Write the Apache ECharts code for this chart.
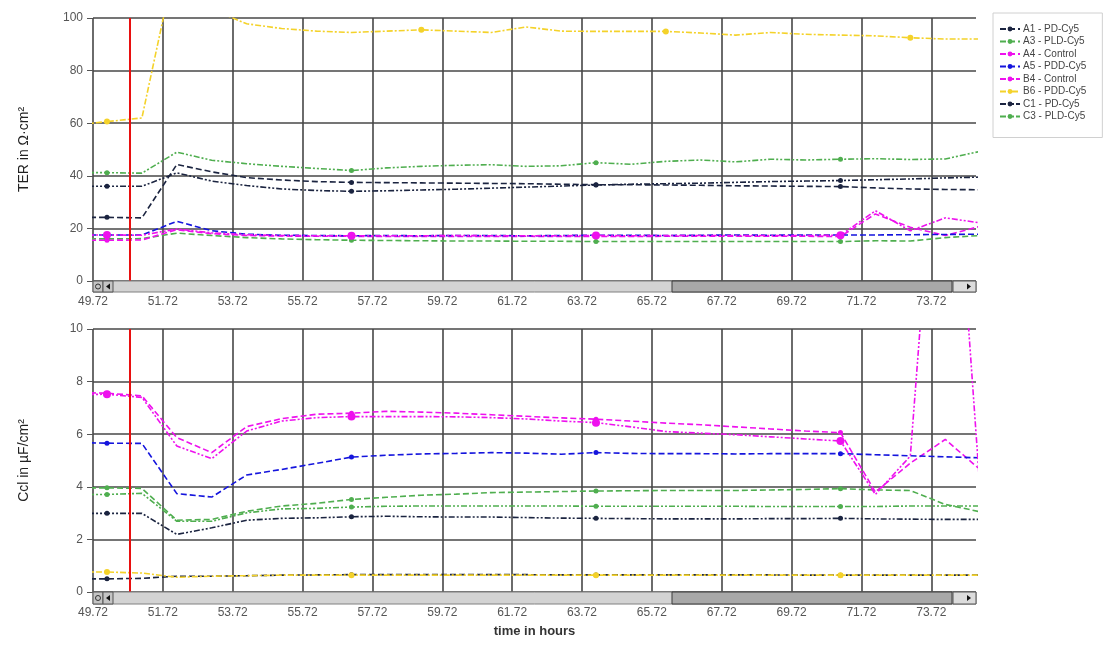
<!DOCTYPE html>
<html>
<head>
<meta charset="utf-8">
<script src="https://cdn.jsdelivr.net/npm/echarts@6/dist/echarts.min.js"></script>
<style>
html,body{margin:0;padding:0;background:#fff;}
#chart{width:1117px;height:647px;}
</style>
</head>
<body>
<div id="chart"></div>
<script>
// ---------- DATA ----------
const hours = [49.12,50.12,51.12,52.12,53.12,54.12,55.12,56.12,57.12,58.12,59.12,60.12,61.12,62.12,63.12,64.12,65.12,66.12,67.12,68.12,69.12,70.12,71.12,72.12,73.12,74.12,75.12];
const axisStart = 49.72;
const axisEnd = 75.0;
const treatmentTime = 50.78;
const seriesNames = ['A1 - PD-Cy5','A3 - PLD-Cy5','A4 - Control','A5 - PDD-Cy5','B4 - Control','B6 - PDD-Cy5','C1 - PD-Cy5','C3 - PLD-Cy5'];

// TER in Ohm*cm2 (top panel)
const terA1 = [24.2,24.2,24.0,44.3,41.5,39.3,38.4,37.8,37.5,37.4,37.3,37.2,37.1,37.0,36.8,36.6,36.6,36.5,36.4,36.2,36.1,36.0,35.9,35.4,35.0,34.8,34.7];
const terA3 = [16.0,16.0,16.1,18.2,17.3,16.5,16.0,15.7,15.5,15.4,15.3,15.2,15.2,15.1,15.1,15.0,15.0,15.0,15.0,15.0,15.0,15.0,15.0,15.3,15.2,16.5,17.3];
const terA4 = [15.5,15.5,15.6,19.5,18.0,17.3,17.1,17.0,17.0,16.9,16.9,16.9,16.9,17.0,16.9,16.9,16.9,17.0,17.0,17.0,17.0,17.0,16.9,25.5,20.4,17.3,20.8];
const terA5 = [17.5,17.5,17.5,22.7,19.1,17.8,17.4,17.3,17.2,17.3,17.2,17.3,17.3,17.2,17.3,17.4,17.4,17.3,17.4,17.5,17.4,17.5,17.5,17.5,17.6,17.7,17.8];
const terB4 = [17.4,17.5,17.4,19.8,18.3,17.6,17.3,17.2,17.2,17.2,17.2,17.3,17.2,17.2,17.2,17.3,17.2,17.3,17.3,17.3,17.3,17.3,17.4,26.7,19.1,24.0,22.1];
const terB6 = [59.2,60.6,62.0,124.0,103.3,97.8,96.0,95.0,94.5,95.0,95.5,95.0,94.5,96.6,95.0,94.9,94.9,94.9,94.3,93.5,94.5,93.8,93.5,93.2,92.5,92.0,92.0];
const terC1 = [36.0,36.0,36.0,41.1,38.0,36.3,35.0,34.4,34.1,34.3,34.6,34.9,35.3,35.7,36.1,36.5,36.8,37.0,37.2,37.5,37.8,38.0,38.2,38.5,38.8,39.2,39.5];
const terC3 = [41.2,41.2,41.0,49.0,45.9,44.6,43.6,42.8,42.0,43.0,43.6,44.0,44.2,43.6,43.8,45.0,44.4,45.5,46.0,45.3,46.3,46.0,46.3,46.5,46.2,46.4,49.3];

// Ccl in uF/cm2 (bottom panel)
const cclA1 = [0.50,0.50,0.52,0.60,0.60,0.62,0.64,0.65,0.66,0.66,0.66,0.66,0.66,0.66,0.65,0.65,0.65,0.65,0.65,0.65,0.65,0.64,0.64,0.64,0.64,0.64,0.64];
const cclA3 = [3.96,3.96,3.94,2.73,2.76,3.07,3.27,3.37,3.52,3.60,3.68,3.72,3.78,3.80,3.82,3.84,3.85,3.86,3.86,3.86,3.88,3.90,3.93,3.88,3.86,3.33,3.05];
const cclA4 = [7.59,7.56,7.46,5.87,5.30,6.29,6.59,6.76,6.80,6.87,6.84,6.80,6.74,6.68,6.62,6.57,6.50,6.42,6.36,6.28,6.20,6.12,6.06,3.80,4.90,5.80,4.65];
const cclA5 = [5.68,5.66,5.65,3.74,3.61,4.45,4.66,4.89,5.13,5.20,5.25,5.27,5.30,5.28,5.24,5.30,5.27,5.26,5.26,5.25,5.26,5.26,5.26,5.22,5.18,5.14,5.10];
const cclB4 = [7.50,7.52,7.40,5.55,5.07,6.12,6.50,6.63,6.67,6.67,6.67,6.66,6.63,6.58,6.50,6.44,6.28,6.10,6.04,5.98,5.90,5.82,5.74,3.71,5.17,22.6,3.80];
const cclB6 = [0.76,0.76,0.72,0.56,0.60,0.62,0.64,0.64,0.64,0.64,0.64,0.64,0.64,0.64,0.64,0.64,0.64,0.64,0.64,0.64,0.64,0.64,0.64,0.64,0.64,0.64,0.64];
const cclC1 = [2.99,2.99,2.99,2.19,2.44,2.73,2.80,2.82,2.86,2.88,2.86,2.85,2.85,2.83,2.81,2.80,2.79,2.78,2.78,2.78,2.79,2.79,2.80,2.78,2.77,2.76,2.76];
const cclC3 = [3.71,3.71,3.75,2.69,2.69,3.01,3.16,3.18,3.23,3.26,3.27,3.27,3.27,3.27,3.27,3.26,3.26,3.26,3.26,3.26,3.25,3.25,3.25,3.25,3.27,3.27,3.27];

const xTickLabels = ['49.72','51.72','53.72','55.72','57.72','59.72','61.72','63.72','65.72','67.72','69.72','71.72','73.72'];

// ---------- STYLE ----------
const FONT = 'Liberation Sans, Arial, sans-serif';
const styles = {
  'A1 - PD-Cy5':  {color:'#1b2440', type:[6,3], size:5},
  'A3 - PLD-Cy5': {color:'#4fae4f', type:[6,3], size:5},
  'A4 - Control': {color:'#ee11ee', type:[6,3], size:5},
  'A5 - PDD-Cy5': {color:'#1515dd', type:[6,3], size:5},
  'B4 - Control': {color:'#ee11ee', type:[6,2,2,2,2,2], size:8},
  'B6 - PDD-Cy5': {color:'#f4d22a', type:[6,2,2,2], size:6},
  'C1 - PD-Cy5':  {color:'#1b2440', type:[6,2,2,2,2,2], size:5},
  'C3 - PLD-Cy5': {color:'#4fae4f', type:[6,2,2,2,2,2], size:5}
};
const markerIdxDefault = [1,8,15,22];
const markerIdxTopB6 = [1,10,17,24];

const terData = [terA1,terA3,terA4,terA5,terB4,terB6,terC1,terC3];
const cclData = [cclA1,cclA3,cclA4,cclA5,cclB4,cclB6,cclC1,cclC3];

function build(values, markers) {
  return values.map((v, i) => {
    const item = {value: [hours[i] - axisStart, v]};
    if (markers.indexOf(i) < 0) item.symbol = 'none';
    return item;
  });
}

const series = [];
[terData, cclData].forEach((set, g) => {
  set.forEach((vals, si) => {
    const name = seriesNames[si];
    const st = styles[name];
    const markers = (g === 0 && name === 'B6 - PDD-Cy5') ? markerIdxTopB6 : markerIdxDefault;
    const s = {
      name: name,
      type: 'line',
      xAxisIndex: g, yAxisIndex: g,
      data: build(vals, markers),
      symbol: 'circle',
      symbolSize: st.size,
      showAllSymbol: true,
      color: st.color,
      itemStyle: {color: st.color},
      lineStyle: {color: st.color, width: 1.6, type: st.type},
      clip: true,
      z: 3,
      animation: false
    };
    if (si === 0) {
      s.markLine = {
        silent: true, symbol: 'none', animation: false,
        label: {show: false},
        lineStyle: {color: '#e81010', width: 2, type: 'solid'},
        data: [{xAxis: treatmentTime - axisStart}]
      };
    }
    series.push(s);
  });
});

function xAxisDef(idx, withName) {
  const a = {
    gridIndex: idx, type: 'value',
    min: 0, max: +(axisEnd - axisStart).toFixed(2), interval: 2,
    offset: 11,
    axisLine: {show: false},
    axisTick: {show: true, length: 5, lineStyle: {color: '#555', width: 1}},
    axisLabel: {
      margin: 4, color: '#555', fontSize: 12, fontFamily: FONT,
      showMaxLabel: false,
      formatter: v => { const i = Math.round(v / 2); return (Math.abs(v - i*2) < 1e-6 && xTickLabels[i]) ? xTickLabels[i] : ''; }
    },
    splitLine: {show: true, showMaxLine: false, lineStyle: {color: '#474747', width: 1.6}}
  };
  if (withName) {
    a.name = 'time in hours';
    a.nameLocation = 'middle';
    a.nameGap = 22;
    a.nameTextStyle = {fontSize: 13, fontWeight: 'bold', color: '#333', fontFamily: FONT};
  }
  return a;
}
function yAxisDef(idx, max, interval, name) {
  return {
    gridIndex: idx, type: 'value', min: 0, max: max, interval: interval,
    axisLine: {show: false},
    axisTick: {show: true, length: 6, lineStyle: {color: '#555'}},
    axisLabel: {color: '#555', fontSize: 12, margin: 10, fontFamily: FONT},
    splitLine: {show: true, lineStyle: {color: '#474747', width: 1.6}},
    name: name, nameLocation: 'middle', nameGap: 62,
    nameTextStyle: {fontSize: 14, color: '#222', fontFamily: FONT}
  };
}

// scrollbar decorations
function scrollbar(y, h) {
  return [
    {type:'rect', shape:{x:93, y:y, width:883, height:h}, style:{fill:'#d3d3d3', stroke:'#808080', lineWidth:1}, z:10},
    {type:'rect', shape:{x:672, y:y, width:280, height:h}, style:{fill:'#a8a8a8', stroke:'#3a3a3a', lineWidth:1}, z:11},
    {type:'rect', shape:{x:93, y:y, width:10, height:h}, style:{fill:'#c4c4c4', stroke:'#555', lineWidth:1}, z:12},
    {type:'circle', shape:{cx:98, cy:y+h/2, r:2.5}, style:{fill:'none', stroke:'#333', lineWidth:1}, z:13},
    {type:'rect', shape:{x:103, y:y, width:10, height:h}, style:{fill:'#c4c4c4', stroke:'#555', lineWidth:1}, z:12},
    {type:'polygon', shape:{points:[[106, y+h/2],[110, y+h/2-3],[110, y+h/2+3]]}, style:{fill:'#111'}, z:13},
    {type:'rect', shape:{x:953, y:y, width:23, height:h}, style:{fill:'#dcdcdc', stroke:'#555', lineWidth:1}, z:12},
    {type:'polygon', shape:{points:[[971, y+h/2],[967, y+h/2-3],[967, y+h/2+3]]}, style:{fill:'#111'}, z:13}
  ];
}

const option = {
  animation: false,
  backgroundColor: '#fff',
  textStyle: {fontFamily: FONT},
  grid: [
    {left: 93, right: 141, top: 18, height: 263},
    {left: 93, right: 141, top: 329, height: 263}
  ],
  legend: {
    orient: 'vertical',
    left: 993, top: 13,
    data: seriesNames,
    itemWidth: 20, itemHeight: 6, itemGap: 2.5,
    padding: [11, 16, 16, 6],
    backgroundColor: '#fff',
    borderColor: '#d0d0d0', borderWidth: 1,
    textStyle: {fontSize: 10, color: '#444', fontFamily: FONT, padding: [0,0,0,-2]},
    selectedMode: false
  },
  xAxis: [xAxisDef(0, false), xAxisDef(1, true)],
  yAxis: [
    yAxisDef(0, 100, 20, 'TER in \u03A9\u00B7cm\u00B2'),
    yAxisDef(1, 10, 2, 'Ccl in \u00B5F/cm\u00B2')
  ],
  graphic: [].concat(scrollbar(281, 11), scrollbar(592, 12)),
  series: series
};

const chart = echarts.init(document.getElementById('chart'), null, {renderer: 'canvas'});
chart.setOption(option);
</script>
</body>
</html>
